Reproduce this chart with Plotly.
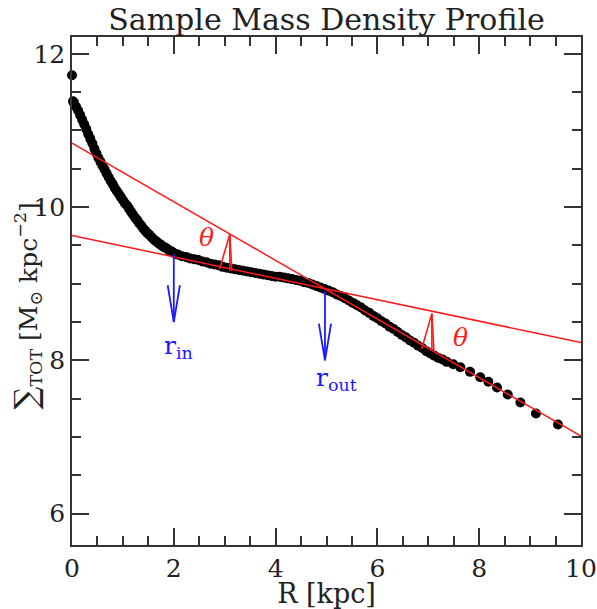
import plotly.graph_objects as go

# ---- data ----
R_kpc = [0.00, 0.02, 0.04, 0.08, 0.12, 0.16, 0.20, 0.24, 0.28, 0.32, 0.36, 0.40, 0.44, 0.48,
         0.52, 0.56, 0.60, 0.64, 0.68, 0.72, 0.76, 0.80, 0.84, 0.88, 0.92, 0.96, 1.00,
         1.04, 1.08, 1.12, 1.16, 1.20, 1.24, 1.28, 1.32, 1.36, 1.40, 1.44, 1.48, 1.52,
         1.56, 1.60, 1.64, 1.68, 1.72, 1.76, 1.80, 1.84, 1.88, 1.92, 1.96, 2.00,
         2.08, 2.16, 2.24, 2.32, 2.40, 2.48, 2.56, 2.64, 2.72, 2.80, 2.88, 2.96, 3.04,
         3.12, 3.20, 3.28, 3.36, 3.44, 3.52, 3.60, 3.68, 3.76, 3.84, 3.92, 4.00, 4.08,
         4.16, 4.24, 4.32, 4.40, 4.48, 4.56, 4.64, 4.72, 4.80, 4.88, 4.96, 5.04, 5.12,
         5.20, 5.28, 5.36, 5.44, 5.52, 5.60, 5.68, 5.76, 5.84, 5.92, 6.00, 6.08, 6.16,
         6.24, 6.32, 6.40, 6.48, 6.56, 6.64, 6.72, 6.80, 6.88, 6.96, 7.04, 7.12, 7.20,
         7.28, 7.36, 7.49, 7.63, 7.82, 8.02, 8.18, 8.35, 8.56, 8.81, 9.115, 9.548]
Sigma_tot = [11.72, 11.38, 11.36, 11.31, 11.26, 11.20, 11.14, 11.08, 11.02, 10.95, 10.89, 10.83,
             10.76, 10.70, 10.64, 10.59, 10.54, 10.49, 10.44, 10.39, 10.34, 10.30, 10.25,
             10.21, 10.17, 10.13, 10.09, 10.05, 10.02, 9.98, 9.94, 9.90, 9.86, 9.83, 9.79,
             9.76, 9.72, 9.69, 9.66, 9.64, 9.61, 9.58, 9.56, 9.54, 9.52, 9.50, 9.48, 9.47,
             9.45, 9.43, 9.42, 9.40,
             9.38, 9.36, 9.35, 9.33, 9.32, 9.31, 9.29, 9.28, 9.26, 9.25, 9.24, 9.22, 9.21,
             9.20, 9.19, 9.18, 9.17, 9.16, 9.15, 9.14, 9.13, 9.12, 9.11, 9.10, 9.09, 9.09,
             9.08, 9.07, 9.06, 9.05, 9.04, 9.02, 9.01, 8.99, 8.97, 8.95, 8.93, 8.91, 8.89,
             8.86, 8.84, 8.81, 8.78, 8.75, 8.72, 8.69, 8.65, 8.62, 8.58, 8.55, 8.51, 8.48,
             8.44, 8.41, 8.37, 8.33, 8.30, 8.26, 8.23, 8.19, 8.16, 8.12, 8.09, 8.06, 8.03,
             8.01, 7.98, 7.95, 7.91, 7.85, 7.78, 7.72, 7.645, 7.554, 7.45, 7.306, 7.163]

# fitted lines (end points at R = 0 and R = 10)
fit_R = [0.0, 10.0]
fit_inner = [10.834, 7.01]
fit_outer = [9.63, 8.232]

# radius markers
r_in = 2.0
r_in_top, r_in_tip = 9.39, 8.50
r_out = 4.97
r_out_top, r_out_tip = 8.91, 8.00

# theta arrows: (R, base, tip)
theta_arrows = [(3.10, 9.17, 9.65), (7.07, 8.13, 8.61)]
theta_labels_R = [2.65, 7.63]
theta_labels_S = [9.60, 8.30]

fig = go.Figure()

RED = "#ff1a1a"
BLUE = "#1a1aff"
SERIF = "DejaVu Serif"

fig.add_trace(go.Scatter(x=R_kpc, y=Sigma_tot, mode="markers", cliponaxis=False,
                         marker=dict(size=10, color="black", line=dict(width=0))))

fig.add_trace(go.Scatter(x=fit_R, y=fit_inner, mode="lines",
                         line=dict(color=RED, width=1.5), hoverinfo="skip"))
fig.add_trace(go.Scatter(x=fit_R, y=fit_outer, mode="lines",
                         line=dict(color=RED, width=1.5), hoverinfo="skip"))

# blue open arrows
def blue_arrow(xc, top, tip, hw=0.12, hl=0.48):
    xs = [xc, xc, None, xc - hw, xc, xc + hw]
    ys = [top, tip, None, tip + hl, tip, tip + hl]
    fig.add_trace(go.Scatter(x=xs, y=ys, mode="lines",
                             line=dict(color=BLUE, width=1.8), hoverinfo="skip"))

blue_arrow(r_in, r_in_top, r_in_tip)
blue_arrow(r_out, r_out_top, r_out_tip)

# red theta arrows (narrow open heads)
for xc, base, tip in theta_arrows:
    xs = [xc, xc, None, xc - 0.2, xc, xc + 0.04]
    ys = [base, tip, None, base + 0.02, tip, base + 0.0]
    fig.add_trace(go.Scatter(x=xs, y=ys, mode="lines",
                             line=dict(color=RED, width=1.6), hoverinfo="skip"))

for tx, ty in zip(theta_labels_R, theta_labels_S):
    fig.add_annotation(x=tx, y=ty, text="<i>θ</i>", showarrow=False,
                       font=dict(family=SERIF, size=25, color=RED))

fig.add_annotation(x=2.1, y=8.17, text="r<sub>in</sub>", showarrow=False,
                   font=dict(family=SERIF, size=25, color=BLUE))
fig.add_annotation(x=5.2, y=7.76, text="r<sub>out</sub>", showarrow=False,
                   font=dict(family=SERIF, size=25, color=BLUE))

# y axis title
fig.add_annotation(xref="paper", yref="paper", x=-0.09, y=0.47, textangle=-90,
                   xanchor="center", yanchor="middle",
                   text="<span style='font-size:32px'>∑</span><sub>TOT</sub> [M<sub>⊙</sub> kpc<sup>−2</sup>]",
                   showarrow=False,
                   font=dict(family=SERIF, size=25, color="#222"))

axis_common = dict(showline=True, linecolor="#333", linewidth=1.5, mirror="ticks",
                   ticks="inside", ticklen=17, tickwidth=1.5, tickcolor="#333",
                   showgrid=False, zeroline=False, automargin=False,
                   tickfont=dict(family=SERIF, size=25, color="#222"),
                   minor=dict(ticks="inside", ticklen=9, tickwidth=1.5, tickcolor="#333",
                              dtick=0.5, showgrid=False))

fig.update_layout(
    width=597, height=609,
    margin=dict(l=72, r=16, t=37, b=64),
    paper_bgcolor="white", plot_bgcolor="white",
    showlegend=False,
    title=dict(text="Sample Mass Density Profile", x=0.5, xref="paper",
               y=1 - 19 / 609, yanchor="middle",
               font=dict(family=SERIF, size=30, color="#222")),
    xaxis=dict(range=[0, 10], dtick=2, tick0=0,
               title=dict(text="R [kpc]", standoff=0,
                          font=dict(family=SERIF, size=27, color="#222")),
               **axis_common),
    yaxis=dict(range=[5.59, 12.22], dtick=2, tick0=0, **axis_common),
)

fig.write_html("out.html")
